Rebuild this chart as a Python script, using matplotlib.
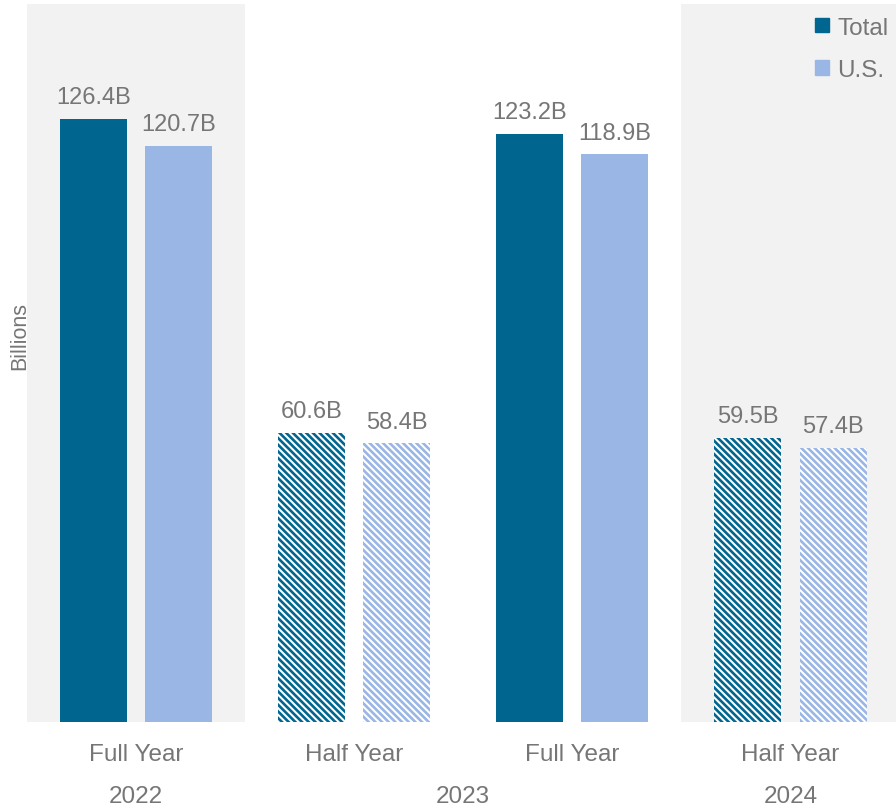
import numpy as np
import matplotlib
matplotlib.use('Agg')
import matplotlib.pyplot as plt
from matplotlib.patches import Patch

plt.rcParams['font.family'] = ['Liberation Sans', 'DejaVu Sans']
plt.rcParams['hatch.linewidth'] = 1.9

periods = ['Full Year', 'Half Year', 'Full Year', 'Half Year']
years = ['2022', '2023', '2024']
year_pos = [0, 1.5, 3]
total = [126.4, 60.6, 123.2, 59.5]
us = [120.7, 58.4, 118.9, 57.4]
is_half = [False, True, False, True]

dark = '#00668f'
light = '#99b6e5'
grey_txt = '#767676'

fig = plt.figure(figsize=(8.96, 8.12), dpi=100)
ax = fig.add_axes([27 / 896, 1 - 723 / 812, 1 - 27 / 896 + 0.004, 718 / 812])

# shaded bands for 2022 and 2024
ax.axvspan(-0.5, 0.5, color='#f2f2f2', zorder=0, lw=0)
ax.axvspan(2.5, 3.5, color='#f2f2f2', zorder=0, lw=0)

x = np.arange(len(periods))
w = 0.307
off = 0.195
for i in range(len(periods)):
    for val, col, dx in [(total[i], dark, -off), (us[i], light, off)]:
        if is_half[i]:
            ax.bar(x[i] + dx, val, w, facecolor='white', edgecolor=col,
                   hatch='\\' * 5, lw=0, zorder=2)
        else:
            ax.bar(x[i] + dx, val, w, color=col, lw=0, zorder=2)
        ax.text(x[i] + dx, val + 2.2, f'{val:.1f}B', ha='center', va='bottom',
                fontsize=17, color=grey_txt)

ax.set_xlim(-0.5, 3.5)
ax.set_ylim(0, 150.4)
ax.set_yticks([])
ax.set_xticks(x)
ax.set_xticklabels(periods, fontsize=17.5, color=grey_txt)
ax.tick_params(axis='x', length=0, pad=15)
for s in ax.spines.values():
    s.set_visible(False)

for yr, p in zip(years, year_pos):
    ax.text(p, -15.6, yr, ha='center', va='center', fontsize=17.5, color=grey_txt,
            clip_on=False)

fig.text(20 / 896, 1 - 336 / 812, 'Billions', rotation=90, ha='center', va='center',
         fontsize=15.5, color=grey_txt)

# legend
handles = [Patch(color=dark, label='Total'), Patch(color=light, label='U.S.')]
ax.legend(handles=handles, loc='upper right', bbox_to_anchor=(1.012, 1.013),
          frameon=False, fontsize=17.5, handlelength=0.55, handleheight=0.55,
          handletextpad=0.35, labelspacing=0.85, labelcolor=grey_txt)

fig.savefig('out.png', dpi=100)
